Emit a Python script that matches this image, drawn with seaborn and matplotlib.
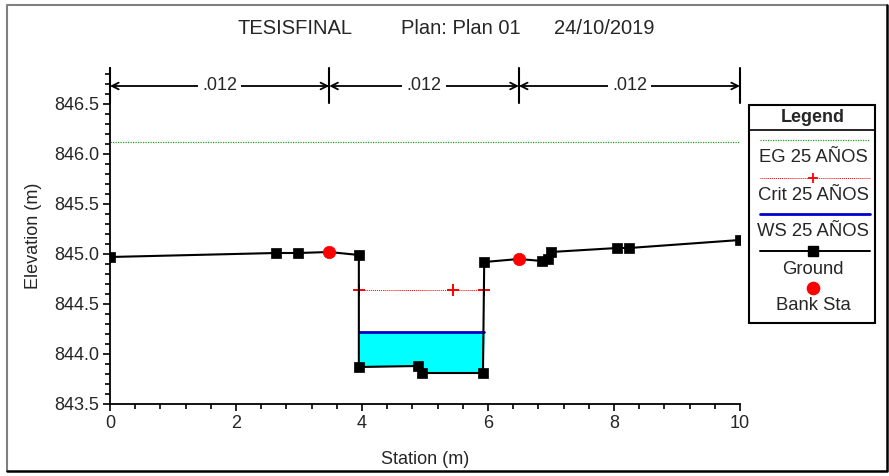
import numpy as np
import pandas as pd
import matplotlib
matplotlib.use("Agg")
import matplotlib.pyplot as plt
import seaborn as sns

# ---------------- data ----------------
ground_x = [0.0, 2.63, 2.99, 3.48, 3.95, 3.95, 4.89, 4.96, 5.92, 5.94, 6.49, 6.86, 6.95, 7.00, 8.05, 8.24, 10.0]
ground_y = [844.97, 845.01, 845.01, 845.02, 844.99, 843.87, 843.88, 843.81, 843.81, 844.92, 844.95, 844.93, 844.95, 845.02, 845.06, 845.06, 845.14]
ground_mark = [True, True, True, False, True, True, True, True, True, True, False, True, True, True, True, True, True]
bank_x = [3.48, 6.49]
bank_y = [845.02, 844.95]
eg_level = 846.12
crit_x = [3.95, 5.45, 5.94]
crit_level = 844.64
ws_level = 844.22
ws_x = [3.95, 5.93]
n_values = [".012", ".012", ".012"]
n_bounds = [0.0, 3.48, 6.49, 10.0]
title_parts = ["TESISFINAL", "Plan: Plan 01", "24/10/2019"]
legend_labels = ["EG 25 AÑOS", "Crit 25 AÑOS", "WS 25 AÑOS", "Ground", "Bank Sta"]
xticks = [0, 2, 4, 6, 8, 10]
yticks = [843.5, 844.0, 844.5, 845.0, 845.5, 846.0, 846.5]

sns.set_style("white")
plt.rcParams['font.family'] = ['Liberation Sans', 'DejaVu Sans']

W, H = 889, 476
fig = plt.figure(figsize=(W / 100, H / 100), dpi=100)

ax_l, ax_r, ax_t, ax_b = 110, 740, 68, 404
ax = fig.add_axes([ax_l / W, 1 - ax_b / H, (ax_r - ax_l) / W, (ax_b - ax_t) / H])
ax.set_facecolor("white")
ymin = 843.5
ymax = ymin + (ax_b - ax_t) / 100.0
ax.set_xlim(0, 10)
ax.set_ylim(ymin, ymax)

gdf = pd.DataFrame({"x": ground_x, "y": ground_y})
gx = np.array(ground_x)
gy = np.array(ground_y)

# WS fill
m = (gx >= ws_x[0]) & (gx <= ws_x[1] + 0.02)
fx = gx[m]
fy = np.minimum(gy[m], ws_level)
ax.fill_between(fx, fy, ws_level, color="#00ffff", lw=0, zorder=1)

# EG line
sns.lineplot(x=[min(ground_x), max(ground_x)], y=[eg_level, eg_level], ax=ax,
             color="#22a022", lw=0.9, linestyle=(0, (1, 1)), zorder=2)
# WS line
sns.lineplot(x=ws_x, y=[ws_level, ws_level], ax=ax, color="#0000cc", lw=2.0, zorder=3)
# Crit line
sns.lineplot(x=crit_x, y=[crit_level] * len(crit_x), ax=ax, color="red", lw=0.7,
             linestyle=(0, (1, 1)), marker="+", markersize=8, markeredgewidth=1.4,
             markeredgecolor="red", zorder=4)
# Ground
sns.lineplot(data=gdf, x="x", y="y", ax=ax, sort=False, estimator=None,
             color="black", lw=1.5, zorder=5)
mdf = gdf[np.array(ground_mark)]
sns.scatterplot(data=mdf, x="x", y="y", ax=ax, marker="s", s=48, color="black",
                edgecolor="black", linewidth=0.5, zorder=6)
# Bank stations
sns.scatterplot(x=bank_x, y=bank_y, ax=ax, marker="o", s=80, color="red",
                edgecolor="red", linewidth=0.5, zorder=7)

# Manning n annotations
arrow_y = ymin + (ax_b - 86) / 100.0
bar_top = ymax
bar_bot = ymin + (ax_b - 103) / 100.0
for b in n_bounds:
    ax.plot([b, b], [bar_bot, bar_top], color="black", lw=1.5, clip_on=False, zorder=8)
for i, lab in enumerate(n_values):
    a, b = n_bounds[i], n_bounds[i + 1]
    ax.annotate("", xy=(a, arrow_y), xytext=(b, arrow_y),
                arrowprops=dict(arrowstyle="<->", color="black", lw=1.3,
                                shrinkA=0, shrinkB=0, mutation_scale=12),
                annotation_clip=False, zorder=8)
    ax.text((a + b) / 2, arrow_y, lab, ha="center", va="center", fontsize=13,
            bbox=dict(facecolor="white", edgecolor="none", pad=3), zorder=9)

# axes styling
for s in ["top", "right"]:
    ax.spines[s].set_visible(False)
for s in ["left", "bottom"]:
    ax.spines[s].set_color("black")
    ax.spines[s].set_linewidth(1.3)
ax.set_xticks(xticks)
ax.set_xticklabels([str(t) for t in xticks])
ax.set_yticks(yticks)
ax.set_yticklabels([f"{t:.1f}" for t in yticks])
ax.set_xticks(np.arange(0, 10.01, 0.4), minor=True)
ax.set_yticks(np.arange(843.5, 846.86, 0.1), minor=True)
ax.tick_params(axis="both", which="major", direction="out", length=5, width=1.2,
               labelsize=13, color="black", pad=3, bottom=True, left=True)
ax.tick_params(axis="both", which="minor", direction="out", length=3.5, width=1.2,
               color="black", bottom=True, left=True)
ax.set_xlabel("Station (m)", fontsize=13, va="center")
ax.set_ylabel("Elevation (m)", fontsize=13, va="center")
ax.xaxis.set_label_coords(0.5, (ax_b - 460) / (ax_b - ax_t))
ax.yaxis.set_label_coords((33 - ax_l) / (ax_r - ax_l), 0.5)
ax.grid(False)

# overlay in pixel coordinates
ov = fig.add_axes([0, 0, 1, 1], zorder=10)
ov.set_xlim(0, W)
ov.set_ylim(H, 0)
ov.axis("off")
ov.patch.set_alpha(0)
# outer frame
ov.plot([7, 7, 887], [471, 5, 5], color="#808080", lw=1.5)
ov.plot([7, 887, 887], [471, 471, 5], color="black", lw=1.8)

# title
tx = [295, 461, 604]
for t, x in zip(title_parts, tx):
    ov.text(x, 28, t, ha="center", va="center", fontsize=14.5)

# legend
lx0, lx1, ly0, ly1 = 749, 875, 105, 323
ov.add_patch(plt.Rectangle((lx0, ly0), lx1 - lx0, ly1 - ly0, fill=True,
                           facecolor="white", edgecolor="black", lw=1.5))
ov.plot([lx0, lx1], [130, 130], color="black", lw=1.2)
cx = 813
ov.text(cx, 117, "Legend", ha="center", va="center", fontsize=13, fontweight="bold")
ov.plot([760, 870], [140, 140], color="#22a022", lw=0.9, linestyle=(0, (1, 1)))
ov.text(cx, 158, legend_labels[0], ha="center", va="center", fontsize=13.3)
ov.plot([760, 870], [178, 178], color="red", lw=0.7, linestyle=(0, (1, 1)))
ov.plot([cx], [178], marker="+", color="red", markersize=7, markeredgewidth=1.3)
ov.text(cx, 196, legend_labels[1], ha="center", va="center", fontsize=13.3)
ov.plot([760, 870], [214, 214], color="#0000cc", lw=2.0)
ov.text(cx, 232, legend_labels[2], ha="center", va="center", fontsize=13.3)
ov.plot([760, 870], [251, 251], color="black", lw=1.4)
ov.plot([cx], [251], marker="s", color="black", markersize=6.5)
ov.text(cx, 270, legend_labels[3], ha="center", va="center", fontsize=13.3)
ov.plot([cx], [288], marker="o", color="red", markersize=8.8)
ov.text(cx, 306, legend_labels[4], ha="center", va="center", fontsize=13.3)

fig.savefig("out.png", dpi=100)
